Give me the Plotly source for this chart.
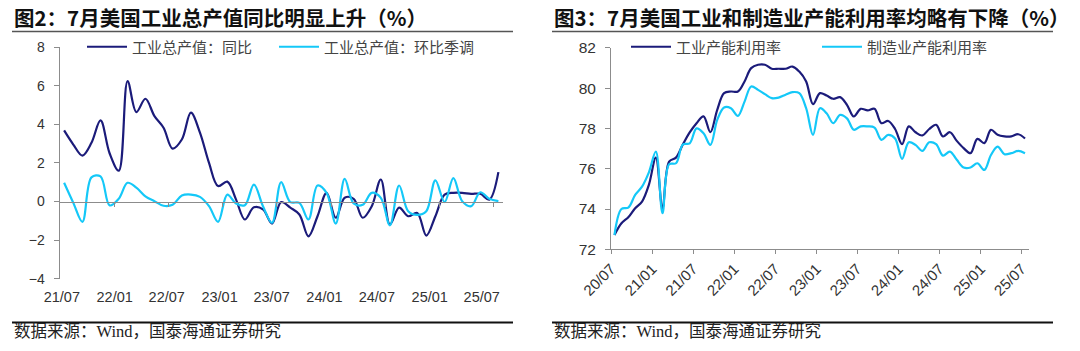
import plotly.graph_objects as go
import pandas as pd

# ---------------- data ----------------
ip_months = pd.date_range("2021-07-01", "2025-07-01", freq="MS")
ip_yoy = [3.68, 2.95, 2.38, 3.04, 4.2, 2.5, 1.6, 6.23, 4.63, 5.32, 4.42, 3.82, 2.74,
          3.21, 4.6, 3.57, 2.0, 0.8, 1.03, 0.1, -0.93, -0.3, -0.41, -1.14, -0.03,
          -0.32, -0.67, -1.8, -0.76, 0.45, -0.84, 0.2, 0.14, -0.84, -0.24, 1.14,
          -1.19, -0.32, -0.76, -0.59, -1.76, -0.76, 0.36, 0.45, 0.45, 0.4, 0.4, 0.1, 1.52]
ip_mom = [0.97, -0.07, -1.05, 1.25, 1.3, -0.2, 0.15, 0.97, 0.72, 0.27, 0.02, -0.22, -0.17,
          0.31, 0.36, 0.24, -0.24, -1.05, 0.36, -0.1, -0.19, 0.88, -0.24, -1.1, 1.0,
          -0.03, -0.07, -0.93, 0.83, 0.45, -1.14, 1.17, -0.1, -0.17, 0.45, 0.19,
          -1.23, 0.83, -0.5, -0.69, -0.5, 1.1, -0.03, 1.21, 0.02, -0.24, 0.48, 0.14, 0.02]

cu_months = pd.date_range("2020-07-01", "2025-07-01", freq="MS")
cu_total = [72.71, 73.29, 73.59, 74.04, 74.37, 75.2, 76.55, 74.04, 76.35, 76.55, 77.2,
            77.8, 78.26, 78.6, 77.81, 78.92, 79.75, 79.83, 79.83, 80.33, 80.99, 81.16,
            81.16, 80.96, 80.96, 80.96, 81.07, 80.82, 80.33, 79.2, 79.75, 79.63, 79.47,
            79.55, 79.17, 78.59, 78.97, 78.89, 78.97, 78.26, 78.37, 77.97, 77.22, 78.1,
            77.81, 77.65, 77.97, 78.18, 77.6, 77.81, 77.38, 77.02, 76.77, 77.48, 77.27,
            77.93, 77.68, 77.6, 77.6, 77.71, 77.5]
cu_mfg = [72.71, 74.0, 74.07, 74.7, 75.11, 75.82, 76.85, 73.79, 76.22, 76.27, 77.2,
          77.26, 78.0, 77.76, 77.18, 78.42, 79.04, 79.0, 78.62, 79.33, 80.08, 79.91,
          79.7, 79.5, 79.53, 79.67, 79.8, 79.75, 79.0, 77.68, 79.0, 78.75, 78.26,
          78.67, 78.5, 77.93, 78.1, 78.1, 78.04, 77.43, 77.68, 77.5, 76.49, 77.31,
          77.18, 76.88, 77.31, 77.22, 76.65, 76.85, 76.44, 76.06, 76.06, 76.27, 75.94,
          76.68, 77.1, 76.72, 76.77, 76.88, 76.77]

names_left = ["工业总产值：同比", "工业总产值：环比季调"]
names_right = ["工业产能利用率", "制造业产能利用率"]
title_left = "图2：7月美国工业总产值同比明显上升（%）"
title_right = "图3：7月美国工业和制造业产能利用率均略有下降（%）"
source_text = "数据来源：Wind，国泰海通证券研究"

# ---------------- style ----------------
W, H = 1080, 351
NAVY = "#1B1B7A"
CYAN = "#14C8F8"
GREY = "#8C8C8C"
TICKC = "#333333"
SANS = "Liberation Sans, Arial, sans-serif"
CJK = "Noto Sans CJK SC"
SERIF_CJK = "Liberation Serif, Noto Sans CJK SC"


def fx(p):
    return p / W


def fy(p):
    return 1 - p / H


line_kw = dict(width=2.2, shape="spline")

fig = go.Figure()
fig.add_trace(go.Scatter(x=ip_months, y=ip_yoy, xperiod="M1", xperiodalignment="middle",
                         mode="lines", name=names_left[0], line=dict(color=NAVY, **line_kw),
                         xaxis="x", yaxis="y", legend="legend"))
fig.add_trace(go.Scatter(x=ip_months, y=ip_mom, xperiod="M1", xperiodalignment="middle",
                         mode="lines", name=names_left[1], line=dict(color=CYAN, **line_kw),
                         xaxis="x", yaxis="y", legend="legend2"))
# invisible carrier so the bottom label axis of the left panel is drawn
fig.add_trace(go.Scatter(x=ip_months, y=ip_yoy, mode="lines", opacity=0,
                         line=dict(width=0), hoverinfo="skip", showlegend=False,
                         xaxis="x3", yaxis="y"))
fig.add_trace(go.Scatter(x=cu_months, y=cu_total, xperiod="M1", xperiodalignment="middle",
                         mode="lines", name=names_right[0], line=dict(color=NAVY, **line_kw),
                         xaxis="x2", yaxis="y2", legend="legend3"))
fig.add_trace(go.Scatter(x=cu_months, y=cu_mfg, xperiod="M1", xperiodalignment="middle",
                         mode="lines", name=names_right[1], line=dict(color=CYAN, **line_kw),
                         xaxis="x2", yaxis="y2", legend="legend4"))

# left panel geometry
ly_dom = [fy(278.8), fy(47)]
ly_rng = [-4, 8]
zero_pos = ly_dom[0] + (0 - ly_rng[0]) / (ly_rng[1] - ly_rng[0]) * (ly_dom[1] - ly_dom[0])
lx_dom = [fx(59.5), fx(503)]

legend_common = dict(orientation="h", yanchor="middle", xanchor="left", y=fy(47),
                     bgcolor="rgba(0,0,0,0)", itemwidth=40,
                     font=dict(family=CJK, size=15, color="#444444"))

fig.update_layout(
    template="none",
    width=W, height=H,
    margin=dict(l=0, r=0, t=0, b=0, autoexpand=False),
    paper_bgcolor="white", plot_bgcolor="rgba(0,0,0,0)",
    xaxis=dict(domain=lx_dom, anchor="free", position=zero_pos,
               type="date", range=["2021-07-01", "2025-08-01"],
               tick0="2021-07-01", dtick="M6", showticklabels=False,
               showline=True, linecolor=GREY, linewidth=1,
               ticks="outside", ticklen=4, tickcolor=GREY,
               showgrid=False, zeroline=False, automargin=False),
    xaxis3=dict(domain=lx_dom, overlaying="x", anchor="y", side="bottom",
                type="date", range=["2021-06-23", "2025-09-13"],
                tick0="2021-07-01", dtick="M6", tickformat="%y/%m",
                showline=False, ticks="", showgrid=False, zeroline=False,
                ticklabelstandoff=8, automargin=False,
                tickfont=dict(family=SANS, size=14.5, color=TICKC)),
    yaxis=dict(domain=ly_dom, anchor="x", range=ly_rng, dtick=2,
               showline=True, linecolor=GREY, linewidth=1,
               ticks="outside", ticklen=5, tickcolor=GREY,
               showgrid=False, zeroline=False, ticklabelstandoff=6, automargin=False,
               tickfont=dict(family=SANS, size=14, color=TICKC)),
    xaxis2=dict(domain=[fx(611), fx(1028.5)], anchor="y2", type="date",
                range=["2020-07-01", "2025-08-01"],
                tick0="2020-07-01", dtick="M6", tickformat="%y/%m", tickangle=-45,
                showline=True, linecolor=GREY, linewidth=1,
                ticks="outside", ticklen=4, tickcolor=GREY,
                showgrid=False, zeroline=False, automargin=False,
                tickfont=dict(family=SANS, size=15, color=TICKC)),
    yaxis2=dict(domain=[fy(249.3), fy(47.8)], anchor="x2", range=[72, 82], dtick=2,
                showline=True, linecolor=GREY, linewidth=1,
                ticks="outside", ticklen=5, tickcolor=GREY,
                showgrid=False, zeroline=False, ticklabelstandoff=6, automargin=False,
                tickfont=dict(family=SANS, size=15.5, color=TICKC)),
    legend=dict(legend_common, x=fx(82)),
    legend2=dict(legend_common, x=fx(274)),
    legend3=dict(legend_common, x=fx(626)),
    legend4=dict(legend_common, x=fx(817)),
    showlegend=True,
    hovermode=False,
)

anns = []
for text, x in ((title_left, fx(12)), (title_right, fx(552))):
    anns.append(dict(xref="paper", yref="paper", xanchor="left", yanchor="middle",
                     showarrow=False, text=text, x=x, y=fy(17),
                     font=dict(family=CJK, size=20.5, color="#111111", weight=700)))
for xs in (fx(12), fx(552)):
    anns.append(dict(xref="paper", yref="paper", xanchor="left", yanchor="middle",
                     showarrow=False, text=source_text, x=xs, y=fy(331),
                     font=dict(family=SERIF_CJK, size=16.5, color="#222222")))
fig.update_layout(annotations=anns)

shapes = []
for x0, x1 in ((12, 513), (552, 1053)):
    shapes.append(dict(type="line", xref="paper", yref="paper",
                       x0=fx(x0), x1=fx(x1), y0=fy(31.5), y1=fy(31.5),
                       line=dict(color="#555555", width=1.5)))
    shapes.append(dict(type="line", xref="paper", yref="paper",
                       x0=fx(x0), x1=fx(x1), y0=fy(322.5), y1=fy(322.5),
                       line=dict(color="#111111", width=1.8)))
fig.update_layout(shapes=shapes)

fig.write_html("out.html")
